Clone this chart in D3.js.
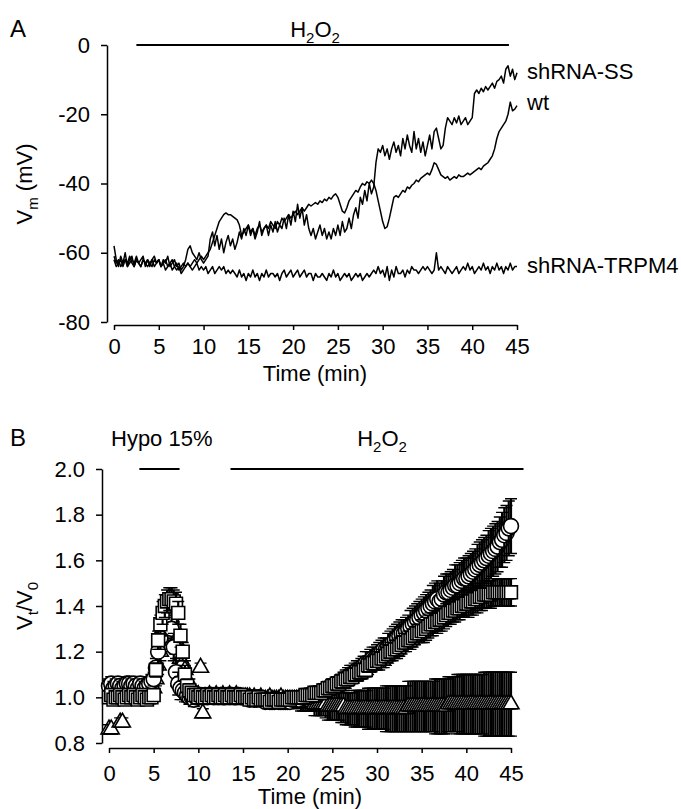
<!DOCTYPE html>
<html>
<head>
<meta charset="utf-8">
<script src="https://cdn.jsdelivr.net/npm/d3@7"></script>
<style>
  body { margin: 0; background: #fff; }
  svg text { font-family: Arial, "Liberation Sans", Helvetica, sans-serif; fill: #000; }
</style>
</head>
<body>
<svg id="chart" width="681" height="809"></svg>
<script>
// ---- panel A: membrane potential traces, one sample every 0.25 min ----
const DT_A = 0.25;
const traceWt = [
  -61,-63,-62,-64, -63,-62,-64,-63, -62,-63,-61,-63, -64,-62,-63,-62, -63,-64,-62,-63,
  -62,-64,-63,-65, -64,-63,-65,-64, -65,-64,-66,-65, -64,-63,-64,-63, -62,-63,-62,-61,
  -62,-61,-60,-59, -57,-55,-53,-51, -50,-49,-48.5,-49, -49,-49.5,-50,-50.5, -52,-55,-54,-53,
  -52,-54,-53,-55, -53,-52,-54,-53, -52,-53,-51,-52, -53,-51,-52,-50, -51,-50,-49,-50,
  -49,-48,-49,-48, -47,-48,-47,-46, -46.5,-46,-45.5,-46, -45,-45.5,-44.5,-45, -44,-44.5,-43.5,-43,
  -44,-46,-48,-48.5, -47,-45,-44,-43, -42,-42.5,-41,-40, -40.5,-39.5,-40,-39, -40,-42,-45,-48,
  -51,-53,-52.5,-50, -47,-44,-43.5,-44, -43,-42,-42.5,-41, -41.5,-40.5,-40,-39, -39.5,-38.5,-38,-37.5,
  -37,-37.5,-36,-34, -34.5,-36,-37.5,-38, -38.5,-38,-39,-38.5, -38,-38.5,-37.5,-38, -38,-37.5,-37,-37.5,
  -37,-36.5,-36,-35.5, -36,-35,-34.5,-34, -33,-32,-30,-27, -25,-24,-23,-22, -20,-16.5,-19,-18.5,
  -17.5
];
const traceSS = [
  -58,-62,-64,-61, -63,-60,-64,-62, -61,-64,-62,-63, -62,-61,-64,-62, -64,-62,-61,-63,
  -62,-64,-62,-63, -61,-64,-63,-62, -64,-63,-65,-64, -62,-59,-58,-60, -61,-62,-60,-62,
  -63,-62,-61,-56, -54,-58,-55,-59, -56,-60,-57,-55, -58,-56,-59,-57, -54,-56,-53,-55,
  -52,-55,-53,-56, -54,-51,-55,-53, -52,-55,-52,-54, -51,-54,-52,-53, -50,-53,-49,-52,
  -48,-51,-46,-50, -47,-52,-49,-53, -55,-53,-56,-54, -52,-55,-53,-56, -54,-56,-53,-55,
  -52,-55,-51,-54, -53,-50,-53,-49, -47,-50,-44,-46, -42,-45,-40,-43, -41,-34,-30,-31,
  -29,-32,-30,-33, -30,-28,-31,-29, -32,-27,-30,-26, -29,-31,-25,-30, -27,-31,-28,-32,
  -29,-26,-30,-25, -24,-27,-30,-29, -24,-21,-22,-23, -21,-22.5,-20.5,-23, -22,-21,-23,-22,
  -21,-14,-13,-14, -12.5,-13.5,-12,-13, -12,-11,-12.5,-10.5, -10,-9,-11,-7, -6,-9,-7,-10,
  -8
];
const traceTRPM4 = [
  -62,-64,-63,-62, -64,-62,-63,-61, -63,-64,-62,-63, -64,-62,-63,-64, -63,-62,-64,-63,
  -62,-64,-63,-62, -64,-63,-62,-64, -63,-65,-64,-63, -64,-63,-64,-65, -64,-63,-65,-64,
  -65,-64,-66,-65, -64,-66,-65,-64, -65,-64,-66,-65, -66,-65,-66,-67, -65,-67,-66,-68,
  -66,-67,-65,-67, -66,-68,-66,-67, -65,-67,-66,-66, -67,-66,-68,-66, -65,-67,-66,-65,
  -67,-66,-65,-67, -66,-65,-67,-66, -66,-68,-66,-67, -67,-66,-67,-68, -66,-67,-65,-67,
  -66,-68,-67,-66, -67,-66,-68,-67, -66,-67,-66,-68, -67,-66,-67,-66, -65,-66,-64,-66,
  -65,-67,-64,-68, -65,-67,-64,-66, -66,-65,-67,-65, -66,-64,-65,-65, -66,-65,-64,-65,
  -64,-65,-66,-65, -60,-65,-64,-65, -66,-64,-65,-66, -65,-64,-66,-65, -64,-65,-63,-65,
  -64,-66,-65,-64, -65,-63,-65,-64, -66,-64,-65,-63, -65,-64,-66,-64, -65,-63,-65,-64,
  -64
];
const traceNames = ["shRNA-SS", "wt", "shRNA-TRPM4"];
const vmTicks = [0, -20, -40, -60, -80];
const timeTicks = [0, 5, 10, 15, 20, 25, 30, 35, 40, 45];
const h2o2A = [2.5, 44.1];

// ---- panel B: relative volume Vt/V0, mean and SE every 0.25 min ----
const DT_B = 0.25;
const volCircle = [
  1.05,1.06,1.04,1.05,1.06,1.05,1.04,1.05,1.06,1.06,1.05,1.06,1.05,1.04,1.06,1.05,1.04,1.05,1.06,1.07,
  1.08,1.13,1.20,1.26,1.30,1.33,1.35,1.34,1.30,1.22,1.11,1.06,1.04,1.03,1.02,1.01,1.00,1.00,0.99,1.00,
  1.00,1.01,1.00,1.01,1.00,1.01,1.01,1.00,1.01,1.00,1.01,1.00,1.00,1.01,1.00,1.01,1.00,1.00,1.01,1.00,
  1.00,1.00,1.00,0.99,1.00,0.99,0.99,1.00,0.99,0.99,0.98,0.99,0.98,0.98,0.98,0.99,0.98,0.98,0.98,0.98,
  0.98,0.98,0.99,0.99,0.99,0.99,1.00,1.00,1.00,1.00,1.01,1.01,1.01,1.01,1.02,1.02,1.03,1.03,1.04,1.04,
  1.05,1.05,1.06,1.06,1.07,1.07,1.08,1.09,1.10,1.10,1.11,1.12,1.12,1.13,1.14,1.15,1.15,1.16,1.17,1.17,
  1.18,1.19,1.20,1.21,1.21,1.22,1.23,1.24,1.25,1.26,1.27,1.28,1.28,1.29,1.30,1.31,1.32,1.33,1.34,1.35,
  1.36,1.37,1.38,1.39,1.40,1.41,1.42,1.43,1.42,1.43,1.45,1.46,1.46,1.47,1.48,1.49,1.49,1.50,1.51,1.52,
  1.52,1.53,1.54,1.55,1.56,1.57,1.58,1.59,1.60,1.61,1.62,1.63,1.64,1.65,1.66,1.68,1.69,1.71,1.72,1.74,
  1.75
];
const seCircle = [
  0.03,0.03,0.03,0.03,0.03,0.03,0.03,0.03,0.03,0.03,0.03,0.03,0.03,0.03,0.03,0.03,0.03,0.03,0.03,0.03,
  0.03,0.04,0.05,0.05,0.06,0.06,0.06,0.06,0.06,0.06,0.06,0.05,0.05,0.04,0.04,0.03,0.03,0.03,0.03,0.03,
  0.02,0.02,0.02,0.02,0.02,0.02,0.02,0.02,0.02,0.02,0.02,0.02,0.02,0.02,0.02,0.02,0.02,0.02,0.02,0.02,
  0.02,0.02,0.02,0.02,0.02,0.02,0.02,0.02,0.02,0.02,0.02,0.02,0.02,0.02,0.02,0.02,0.02,0.02,0.02,0.02,
  0.02,0.02,0.02,0.02,0.02,0.02,0.02,0.02,0.02,0.02,0.03,0.03,0.03,0.03,0.03,0.03,0.03,0.03,0.03,0.03,
  0.03,0.03,0.03,0.03,0.03,0.04,0.04,0.04,0.04,0.04,0.04,0.04,0.04,0.04,0.04,0.05,0.05,0.05,0.05,0.05,
  0.05,0.05,0.05,0.05,0.05,0.06,0.06,0.06,0.06,0.06,0.06,0.06,0.06,0.06,0.06,0.07,0.07,0.07,0.07,0.07,
  0.07,0.07,0.07,0.07,0.07,0.08,0.08,0.08,0.08,0.08,0.08,0.08,0.08,0.08,0.08,0.09,0.09,0.09,0.09,0.09,
  0.09,0.09,0.09,0.09,0.09,0.10,0.10,0.10,0.10,0.10,0.11,0.11,0.11,0.11,0.11,0.11,0.12,0.12,0.12,0.12,
  0.12
];
const volSquare = [
  1.00,1.01,0.99,1.00,1.00,1.01,1.00,0.99,1.00,1.01,1.00,1.01,1.00,0.99,1.00,1.01,1.00,0.99,1.00,1.00,
  1.01,1.12,1.25,1.32,1.37,1.40,1.42,1.43,1.43,1.42,1.41,1.37,1.27,1.20,1.10,1.05,1.03,1.02,1.01,1.01,
  1.00,1.01,1.00,1.00,1.01,1.00,1.01,1.00,1.00,1.01,1.00,1.00,1.01,1.00,1.00,1.01,1.00,1.00,1.00,1.01,
  1.00,1.00,1.00,0.99,1.00,0.99,0.99,1.00,0.99,0.99,0.99,0.99,0.98,0.99,0.99,0.99,0.98,0.99,0.99,0.99,
  0.99,0.99,1.00,1.00,1.00,1.00,1.00,1.00,1.01,1.01,1.01,1.01,1.02,1.02,1.02,1.02,1.03,1.03,1.04,1.04,
  1.05,1.05,1.06,1.06,1.07,1.07,1.08,1.08,1.09,1.09,1.10,1.10,1.11,1.11,1.12,1.12,1.14,1.14,1.15,1.15,
  1.16,1.16,1.17,1.17,1.18,1.19,1.20,1.20,1.21,1.21,1.22,1.23,1.24,1.24,1.25,1.25,1.26,1.27,1.28,1.28,
  1.29,1.29,1.30,1.31,1.32,1.32,1.33,1.33,1.34,1.34,1.35,1.36,1.37,1.37,1.38,1.38,1.39,1.39,1.40,1.40,
  1.41,1.41,1.42,1.42,1.43,1.43,1.44,1.44,1.45,1.45,1.45,1.45,1.46,1.46,1.46,1.46,1.46,1.46,1.46,1.46,
  1.46
];
const seSquare = [
  0.02,0.02,0.02,0.02,0.02,0.02,0.02,0.02,0.02,0.02,0.02,0.02,0.02,0.02,0.02,0.02,0.02,0.02,0.02,0.02,
  0.02,0.03,0.04,0.04,0.05,0.05,0.05,0.05,0.05,0.05,0.05,0.05,0.05,0.04,0.04,0.03,0.03,0.02,0.02,0.02,
  0.02,0.02,0.02,0.02,0.02,0.02,0.02,0.02,0.02,0.02,0.02,0.02,0.02,0.02,0.02,0.02,0.02,0.02,0.02,0.02,
  0.02,0.02,0.02,0.02,0.02,0.02,0.02,0.02,0.02,0.02,0.02,0.02,0.02,0.02,0.02,0.02,0.02,0.02,0.02,0.02,
  0.02,0.02,0.02,0.02,0.02,0.02,0.02,0.02,0.02,0.02,0.02,0.02,0.02,0.02,0.02,0.02,0.02,0.02,0.02,0.02,
  0.03,0.03,0.03,0.03,0.03,0.03,0.03,0.03,0.03,0.03,0.03,0.03,0.03,0.03,0.03,0.03,0.03,0.03,0.03,0.03,
  0.04,0.04,0.04,0.04,0.04,0.04,0.04,0.04,0.04,0.04,0.04,0.04,0.04,0.04,0.04,0.04,0.04,0.04,0.04,0.04,
  0.05,0.05,0.05,0.05,0.05,0.05,0.05,0.05,0.05,0.05,0.05,0.05,0.05,0.05,0.05,0.05,0.05,0.05,0.05,0.05,
  0.06,0.06,0.06,0.06,0.06,0.06,0.06,0.06,0.06,0.06,0.06,0.06,0.06,0.06,0.06,0.06,0.06,0.06,0.06,0.06,
  0.06
];
const volTriangle = [
  0.86,0.86,1.00,1.01,1.00,0.89,0.89,1.00,1.01,1.00,1.01,1.00,1.01,1.02,1.01,1.00,1.01,1.02,1.01,1.02,
  1.04,1.08,1.14,1.20,1.25,1.28,1.30,1.31,1.30,1.28,1.25,1.21,1.17,1.15,1.12,1.08,1.05,1.03,1.02,1.01,
  1.01,1.13,0.93,1.00,1.00,1.01,1.00,1.00,1.01,1.00,1.00,1.01,1.00,1.00,1.01,1.00,1.00,1.01,1.00,1.00,
  1.00,1.00,1.00,1.00,0.99,1.00,0.99,0.99,1.00,0.99,0.99,0.99,1.00,0.99,0.99,0.99,0.99,1.00,0.99,0.99,
  0.99,0.99,0.99,0.99,0.99,0.98,0.98,0.98,0.98,0.98,0.98,0.98,0.97,0.97,0.97,0.97,0.97,0.97,0.96,0.96,
  0.96,0.96,0.96,0.96,0.96,0.96,0.95,0.95,0.95,0.95,0.95,0.95,0.95,0.95,0.95,0.95,0.95,0.95,0.95,0.95,
  0.95,0.95,0.95,0.95,0.95,0.95,0.95,0.95,0.95,0.95,0.95,0.95,0.95,0.95,0.96,0.96,0.96,0.96,0.96,0.96,
  0.96,0.96,0.96,0.96,0.96,0.96,0.96,0.96,0.96,0.96,0.96,0.96,0.97,0.97,0.97,0.97,0.97,0.97,0.97,0.97,
  0.97,0.97,0.97,0.97,0.97,0.97,0.97,0.97,0.97,0.97,0.97,0.97,0.97,0.97,0.97,0.97,0.97,0.97,0.97,0.97,
  0.97
];
const seTriangle = [
  0.02,0.02,0.02,0.02,0.02,0.02,0.02,0.02,0.02,0.02,0.02,0.02,0.02,0.02,0.02,0.02,0.02,0.02,0.02,0.02,
  0.02,0.03,0.04,0.04,0.05,0.05,0.05,0.05,0.05,0.05,0.05,0.04,0.04,0.04,0.04,0.03,0.03,0.02,0.02,0.02,
  0.02,0.02,0.02,0.02,0.02,0.02,0.02,0.02,0.02,0.02,0.02,0.02,0.02,0.02,0.02,0.02,0.02,0.02,0.02,0.02,
  0.02,0.02,0.02,0.02,0.02,0.02,0.02,0.02,0.02,0.02,0.02,0.02,0.02,0.02,0.02,0.02,0.02,0.02,0.02,0.02,
  0.03,0.03,0.03,0.03,0.03,0.03,0.04,0.04,0.04,0.04,0.04,0.04,0.05,0.05,0.05,0.05,0.05,0.06,0.06,0.06,
  0.06,0.06,0.06,0.06,0.07,0.07,0.07,0.07,0.07,0.07,0.08,0.08,0.08,0.08,0.08,0.08,0.09,0.09,0.09,0.09,
  0.09,0.09,0.09,0.09,0.10,0.10,0.10,0.10,0.10,0.10,0.10,0.10,0.10,0.10,0.11,0.11,0.11,0.11,0.11,0.11,
  0.11,0.11,0.11,0.11,0.11,0.11,0.12,0.12,0.12,0.12,0.12,0.12,0.12,0.12,0.12,0.12,0.13,0.13,0.13,0.13,
  0.13,0.13,0.13,0.13,0.13,0.13,0.13,0.13,0.14,0.14,0.14,0.14,0.14,0.14,0.14,0.14,0.14,0.14,0.14,0.14,
  0.14
];
const volTicks = [0.8, 1.0, 1.2, 1.4, 1.6, 1.8, 2.0];
const hypoB = [3.4, 7.9];
const h2o2B = [13.6, 46.4];

const FS = 22;
const svg = d3.select('#chart');

function styleAxis(g) {
  g.attr('font-size', FS).attr('font-family', 'Arial, "Liberation Sans", sans-serif');
  g.selectAll('path.domain, .tick line').attr('stroke', '#000').attr('stroke-width', 1.5);
  g.selectAll('text').attr('fill', '#000');
}

// text with subscripts: parts = [[string, isSub], ...]
function subText(x, y, parts, anchor, rotate) {
  const t = svg.append('text')
    .attr('font-size', FS)
    .attr('text-anchor', anchor || 'start');
  if (rotate) t.attr('transform', `translate(${x},${y}) rotate(-90)`);
  else t.attr('x', x).attr('y', y);
  let shift = 0;
  parts.forEach(([s, sub]) => {
    const want = sub ? 6 : 0;
    t.append('tspan')
      .attr('font-size', sub ? 15 : FS)
      .attr('dy', want - shift)
      .text(s);
    shift = want;
  });
  return t;
}

// ===== Panel A =====
const xA = d3.scaleLinear().domain([0, 45]).range([114, 517]);
const yA = d3.scaleLinear().domain([-80, 0]).range([322, 45]);

svg.append('g').attr('transform', 'translate(107,0)')
  .call(d3.axisLeft(yA).tickValues(vmTicks).tickSize(6).tickSizeOuter(0).tickPadding(11).tickFormat(d => String(d)))
  .call(styleAxis);
svg.append('g').attr('transform', 'translate(0,325)')
  .call(d3.axisBottom(xA).tickValues(timeTicks).tickSize(5).tickSizeOuter(0).tickPadding(8))
  .call(styleAxis);

const lineA = d3.line().x((d, i) => xA(i * DT_A)).y(d => yA(d));
[traceSS, traceWt, traceTRPM4].forEach(tr => {
  svg.append('path').datum(tr)
    .attr('d', lineA)
    .attr('fill', 'none').attr('stroke', '#000')
    .attr('stroke-width', 1.5).attr('stroke-linejoin', 'round');
});

// H2O2 application bar
svg.append('line')
  .attr('x1', xA(h2o2A[0])).attr('x2', xA(h2o2A[1]))
  .attr('y1', yA(0)).attr('y2', yA(0))
  .attr('stroke', '#000').attr('stroke-width', 1.8);

// trace labels, placed at the end of each trace
const lastA = [traceSS, traceWt, traceTRPM4].map(tr => tr[tr.length - 1]);
const labelDy = [0, -2, 0];
traceNames.forEach((name, i) => {
  svg.append('text').attr('x', 527).attr('y', yA(lastA[i]) + 6 + labelDy[i])
    .attr('font-size', FS).text(name);
});

svg.append('text').attr('x', 10).attr('y', 37).attr('font-size', 24).text('A');
subText(315, 37, [['H', 0], ['2', 1], ['O', 0], ['2', 1]], 'middle');
svg.append('text').attr('x', 315).attr('y', 381).attr('font-size', FS)
  .attr('text-anchor', 'middle').text('Time (min)');
subText(32, 184, [['V', 0], ['m', 1], [' (mV)', 0]], 'middle', true);

// ===== Panel B =====
const xB = d3.scaleLinear().domain([0, 45]).range([109, 511]);
const yB = d3.scaleLinear().domain([0.8, 2.0]).range([743, 469]);

svg.append('g').attr('transform', 'translate(102,0)')
  .call(d3.axisLeft(yB).tickValues(volTicks).tickSize(6).tickSizeOuter(0).tickPadding(11).tickFormat(d3.format('.1f')))
  .call(styleAxis);
svg.append('g').attr('transform', 'translate(0,748)')
  .call(d3.axisBottom(xB).tickValues(timeTicks).tickSize(5).tickSizeOuter(0).tickPadding(12))
  .call(styleAxis);

// triangles first, then circles, squares on top; each point = error bar then symbol,
// so the next point's bar paints over the previous symbol
const seriesB = [
  { mean: volTriangle, se: seTriangle, sym: d3.symbolTriangle, size: 110 },
  { mean: volCircle, se: seCircle, sym: d3.symbolCircle, size: 175 },
  { mean: volSquare, se: seSquare, sym: d3.symbolSquare, size: 165 }
];
seriesB.forEach(s => {
  const pts = s.mean.map((m, i) => ({ t: i * DT_B, m: m, e: s.se[i] }));
  const pg = svg.append('g').selectAll('g').data(pts).enter().append('g')
    .attr('transform', d => `translate(${xB(d.t)},0)`);
  pg.append('line')
    .attr('x1', 0).attr('x2', 0)
    .attr('y1', d => yB(d.m - d.e)).attr('y2', d => yB(d.m + d.e))
    .attr('stroke', '#000').attr('stroke-width', 2.2);
  pg.append('path')
    .attr('d', d => `M-6,${yB(d.m + d.e)}H6M-6,${yB(d.m - d.e)}H6`)
    .attr('stroke', '#000').attr('stroke-width', 1.4);
  pg.append('path')
    .attr('transform', d => `translate(0,${yB(d.m)})`)
    .attr('d', d3.symbol(s.sym, s.size))
    .attr('fill', '#fff').attr('stroke', '#000').attr('stroke-width', 1.6);
});

// treatment bars
[hypoB, h2o2B].forEach(r => {
  svg.append('line')
    .attr('x1', xB(r[0])).attr('x2', xB(r[1]))
    .attr('y1', yB(2.0)).attr('y2', yB(2.0))
    .attr('stroke', '#000').attr('stroke-width', 1.8);
});

svg.append('text').attr('x', 10).attr('y', 446).attr('font-size', 24).text('B');
svg.append('text').attr('x', 111).attr('y', 446).attr('font-size', FS).text('Hypo 15%');
subText(382, 446, [['H', 0], ['2', 1], ['O', 0], ['2', 1]], 'middle');
svg.append('text').attr('x', 310).attr('y', 804).attr('font-size', FS)
  .attr('text-anchor', 'middle').text('Time (min)');
subText(32, 606, [['V', 0], ['t', 1], ['/V', 0], ['0', 1]], 'middle', true);
</script>
</body>
</html>
